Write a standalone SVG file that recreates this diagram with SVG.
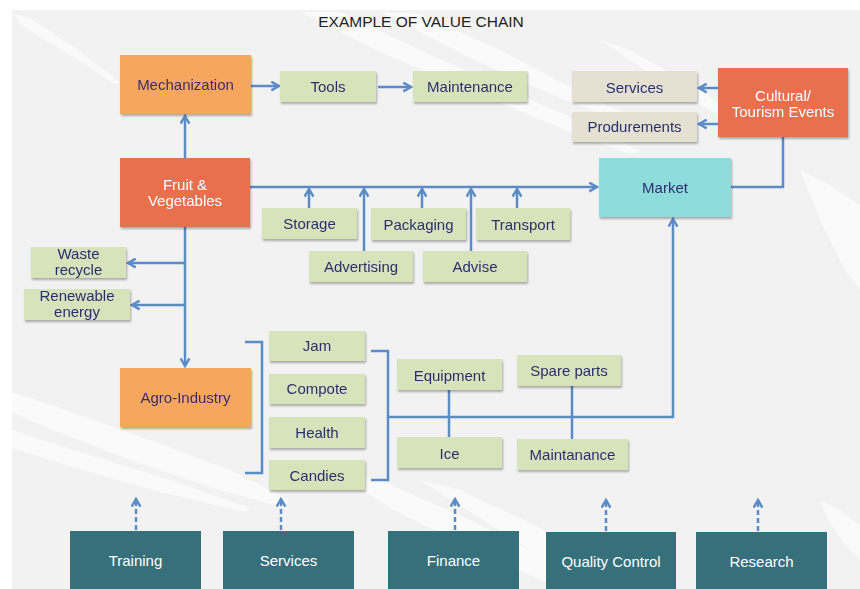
<svg xmlns="http://www.w3.org/2000/svg" width="860" height="589" viewBox="0 0 860 589">
  <defs>
    <style>
      .lbl { font-family: "Liberation Sans", Arial, sans-serif; font-size: 15px; text-anchor: middle; fill: #2b2f6e; }
      .lbl-w { font-family: "Liberation Sans", Arial, sans-serif; font-size: 15px; text-anchor: middle; fill: #ffffff; }
      .title { font-family: "Liberation Sans", Arial, sans-serif; font-size: 15.5px; text-anchor: middle; fill: #222222; }
      .green { fill: #d7e4bb; }
      .beige { fill: #e4e1d2; }
      .orange { fill: #f6a75d; }
      .coral { fill: #e8704f; }
      .teal { fill: #8fdcdc; }
      .dark { fill: #36707b; }
      .conn { fill: none; stroke: #5b8cc6; stroke-width: 2.5; }
      .dash { fill: none; stroke: #5b8cc6; stroke-width: 2.5; stroke-dasharray: 5 3; }
      .brush { fill: #ffffff; opacity: 0.6; }
    </style>
    <marker id="arrow" viewBox="0 0 10 10" refX="8.5" refY="5" markerWidth="11" markerHeight="11" markerUnits="userSpaceOnUse" orient="auto">
      <path d="M1.5,1 L8.5,5 L1.5,9" fill="none" stroke="#5b8cc6" stroke-width="2.2"/>
    </marker>
    <filter id="shadow" x="-10%" y="-10%" width="125%" height="140%">
      <feDropShadow dx="1" dy="2" stdDeviation="1.2" flood-color="#000000" flood-opacity="0.3"/>
    </filter>
  </defs>

  <!-- page background -->
  <rect x="0" y="0" width="860" height="589" fill="#ffffff"/>
  <rect x="12" y="10" width="848" height="579" fill="#f2f2f2"/>

  <!-- brush strokes -->
  <g id="brush-strokes">
    <polygon class="brush" points="14,14 30,18 75,48 120,82 115,84 70,55 22,26"/>
    <polygon class="brush" points="300,12 340,12 420,50 520,95 600,130 640,152 630,154 560,128 470,90 380,52"/>
    <polygon class="brush" points="380,12 420,14 500,50 580,92 650,126 640,128 560,98 470,58"/>
    <polygon class="brush" points="600,40 630,50 700,90 760,130 752,132 690,100"/>
    <polygon class="brush" points="800,170 830,185 860,205 860,290 845,270 820,220"/>
    <polygon class="brush" points="12,392 60,408 150,440 230,470 290,500 285,508 220,490 130,460 40,425 12,412"/>
    <polygon class="brush" points="12,430 80,452 170,480 250,508 245,512 160,492 70,466 12,448"/>
    <polygon class="brush" points="330,470 380,480 470,520 560,565 600,589 560,589 470,548 390,508"/>
    <polygon class="brush" points="420,480 460,490 540,528 620,575 640,589 610,589 530,550"/>
    <polygon class="brush" points="820,500 840,510 860,525 860,560 845,545 828,520"/>
  </g>

  <text class="title" x="421" y="27">EXAMPLE OF VALUE CHAIN</text>

  <!-- connectors -->
  <g id="connectors">
    <path class="conn" d="M251,86 H279" marker-end="url(#arrow)"/>
    <path class="conn" d="M378,87 H411" marker-end="url(#arrow)"/>
    <path class="conn" d="M185,158 V116" marker-end="url(#arrow)"/>
    <path class="conn" d="M250,187 H597" marker-end="url(#arrow)"/>
    <path class="conn" d="M309,208 V189" marker-end="url(#arrow)"/>
    <path class="conn" d="M364,251 V189" marker-end="url(#arrow)"/>
    <path class="conn" d="M422,208 V189" marker-end="url(#arrow)"/>
    <path class="conn" d="M471,251 V189" marker-end="url(#arrow)"/>
    <path class="conn" d="M517,208 V189" marker-end="url(#arrow)"/>
    <path class="conn" d="M718,88 H699" marker-end="url(#arrow)"/>
    <path class="conn" d="M718,124 H699" marker-end="url(#arrow)"/>
    <path class="conn" d="M783,137 V187 H731"/>
    <path class="conn" d="M185,227 V366" marker-end="url(#arrow)"/>
    <path class="conn" d="M185,263 H128" marker-end="url(#arrow)"/>
    <path class="conn" d="M185,305 H132" marker-end="url(#arrow)"/>
    <path class="conn" d="M245,342 H262 V473 H245"/>
    <path class="conn" d="M371,351 H388 V480 H371"/>
    <path class="conn" d="M388,417 H673 V219" marker-end="url(#arrow)"/>
    <path class="conn" d="M449,390 V437"/>
    <path class="conn" d="M572,386 V439"/>
    <path class="dash" d="M136,530 V499" marker-end="url(#arrow)"/>
    <path class="dash" d="M281,530 V499" marker-end="url(#arrow)"/>
    <path class="dash" d="M455,530 V499" marker-end="url(#arrow)"/>
    <path class="dash" d="M606,531 V500" marker-end="url(#arrow)"/>
    <path class="dash" d="M758,531 V500" marker-end="url(#arrow)"/>
  </g>

  <!-- main nodes -->
  <g id="mechanization" filter="url(#shadow)">
    <rect class="orange" x="120" y="55" width="131" height="59"/>
    <text class="lbl" x="185.5" y="90" style="fill:#3d2c6c">Mechanization</text>
  </g>
  <g id="tools" filter="url(#shadow)">
    <rect class="green" x="280" y="71" width="96" height="31"/>
    <text class="lbl" x="328" y="92">Tools</text>
  </g>
  <g id="maintenance" filter="url(#shadow)">
    <rect class="green" x="413" y="71" width="114" height="31"/>
    <text class="lbl" x="470" y="92">Maintenance</text>
  </g>
  <g id="services-top" filter="url(#shadow)">
    <rect class="beige" x="572" y="71" width="125" height="31"/>
    <text class="lbl" x="634.5" y="93">Services</text>
  </g>
  <g id="produrements" filter="url(#shadow)">
    <rect class="beige" x="572" y="112" width="125" height="30"/>
    <text class="lbl" x="634.5" y="132">Produrements</text>
  </g>
  <g id="cultural-tourism" filter="url(#shadow)">
    <rect class="coral" x="718" y="68" width="130" height="69"/>
    <text class="lbl-w" x="783" y="101">Cultural/</text>
    <text class="lbl-w" x="783" y="117">Tourism Events</text>
  </g>
  <g id="fruit-vegetables" filter="url(#shadow)">
    <rect class="coral" x="120" y="158" width="130" height="69"/>
    <text class="lbl-w" x="185" y="190">Fruit &amp;</text>
    <text class="lbl-w" x="185" y="206">Vegetables</text>
  </g>
  <g id="market" filter="url(#shadow)">
    <rect class="teal" x="599" y="158" width="132" height="59"/>
    <text class="lbl" x="665" y="193">Market</text>
  </g>

  <!-- value-adding steps -->
  <g id="storage" filter="url(#shadow)">
    <rect class="green" x="262" y="208" width="95" height="31"/>
    <text class="lbl" x="309.5" y="229">Storage</text>
  </g>
  <g id="packaging" filter="url(#shadow)">
    <rect class="green" x="371" y="208" width="95" height="32"/>
    <text class="lbl" x="418.5" y="230">Packaging</text>
  </g>
  <g id="transport" filter="url(#shadow)">
    <rect class="green" x="476" y="208" width="94" height="32"/>
    <text class="lbl" x="523" y="230">Transport</text>
  </g>
  <g id="advertising" filter="url(#shadow)">
    <rect class="green" x="309" y="251" width="104" height="31"/>
    <text class="lbl" x="361" y="272">Advertising</text>
  </g>
  <g id="advise" filter="url(#shadow)">
    <rect class="green" x="423" y="251" width="104" height="31"/>
    <text class="lbl" x="475" y="272">Advise</text>
  </g>

  <!-- side products -->
  <g id="waste-recycle" filter="url(#shadow)">
    <rect class="green" x="31" y="247" width="95" height="31"/>
    <text class="lbl" x="78.5" y="259">Waste</text>
    <text class="lbl" x="78.5" y="275">recycle</text>
  </g>
  <g id="renewable-energy" filter="url(#shadow)">
    <rect class="green" x="24" y="289" width="106" height="31"/>
    <text class="lbl" x="77" y="301">Renewable</text>
    <text class="lbl" x="77" y="317">energy</text>
  </g>
  <g id="agro-industry" filter="url(#shadow)">
    <rect class="orange" x="120" y="368" width="131" height="59"/>
    <text class="lbl" x="185.5" y="403" style="fill:#3d2c6c">Agro-Industry</text>
  </g>

  <!-- agro-industry products -->
  <g id="jam" filter="url(#shadow)">
    <rect class="green" x="269" y="331" width="96" height="30"/>
    <text class="lbl" x="317" y="351">Jam</text>
  </g>
  <g id="compote" filter="url(#shadow)">
    <rect class="green" x="269" y="374" width="96" height="30"/>
    <text class="lbl" x="317" y="394">Compote</text>
  </g>
  <g id="health" filter="url(#shadow)">
    <rect class="green" x="269" y="417" width="96" height="31"/>
    <text class="lbl" x="317" y="438">Health</text>
  </g>
  <g id="candies" filter="url(#shadow)">
    <rect class="green" x="269" y="460" width="96" height="30"/>
    <text class="lbl" x="317" y="481">Candies</text>
  </g>

  <!-- processing inputs -->
  <g id="equipment" filter="url(#shadow)">
    <rect class="green" x="397" y="359" width="105" height="31"/>
    <text class="lbl" x="449.5" y="381">Equipment</text>
  </g>
  <g id="ice" filter="url(#shadow)">
    <rect class="green" x="397" y="437" width="105" height="31"/>
    <text class="lbl" x="449.5" y="459">Ice</text>
  </g>
  <g id="spare-parts" filter="url(#shadow)">
    <rect class="green" x="517" y="355" width="104" height="31"/>
    <text class="lbl" x="569" y="376">Spare parts</text>
  </g>
  <g id="maintanance" filter="url(#shadow)">
    <rect class="green" x="517" y="439" width="111" height="31"/>
    <text class="lbl" x="572.5" y="460">Maintanance</text>
  </g>

  <!-- support functions -->
  <g id="training">
    <rect class="dark" x="70" y="531" width="131" height="58"/>
    <text class="lbl-w" x="135.5" y="566">Training</text>
  </g>
  <g id="services-support">
    <rect class="dark" x="223" y="531" width="131" height="58"/>
    <text class="lbl-w" x="288.5" y="566">Services</text>
  </g>
  <g id="finance">
    <rect class="dark" x="388" y="531" width="131" height="58"/>
    <text class="lbl-w" x="453.5" y="566">Finance</text>
  </g>
  <g id="quality-control">
    <rect class="dark" x="546" y="532" width="130" height="57"/>
    <text class="lbl-w" x="611" y="567">Quality Control</text>
  </g>
  <g id="research">
    <rect class="dark" x="696" y="532" width="131" height="57"/>
    <text class="lbl-w" x="761.5" y="567">Research</text>
  </g>
</svg>
